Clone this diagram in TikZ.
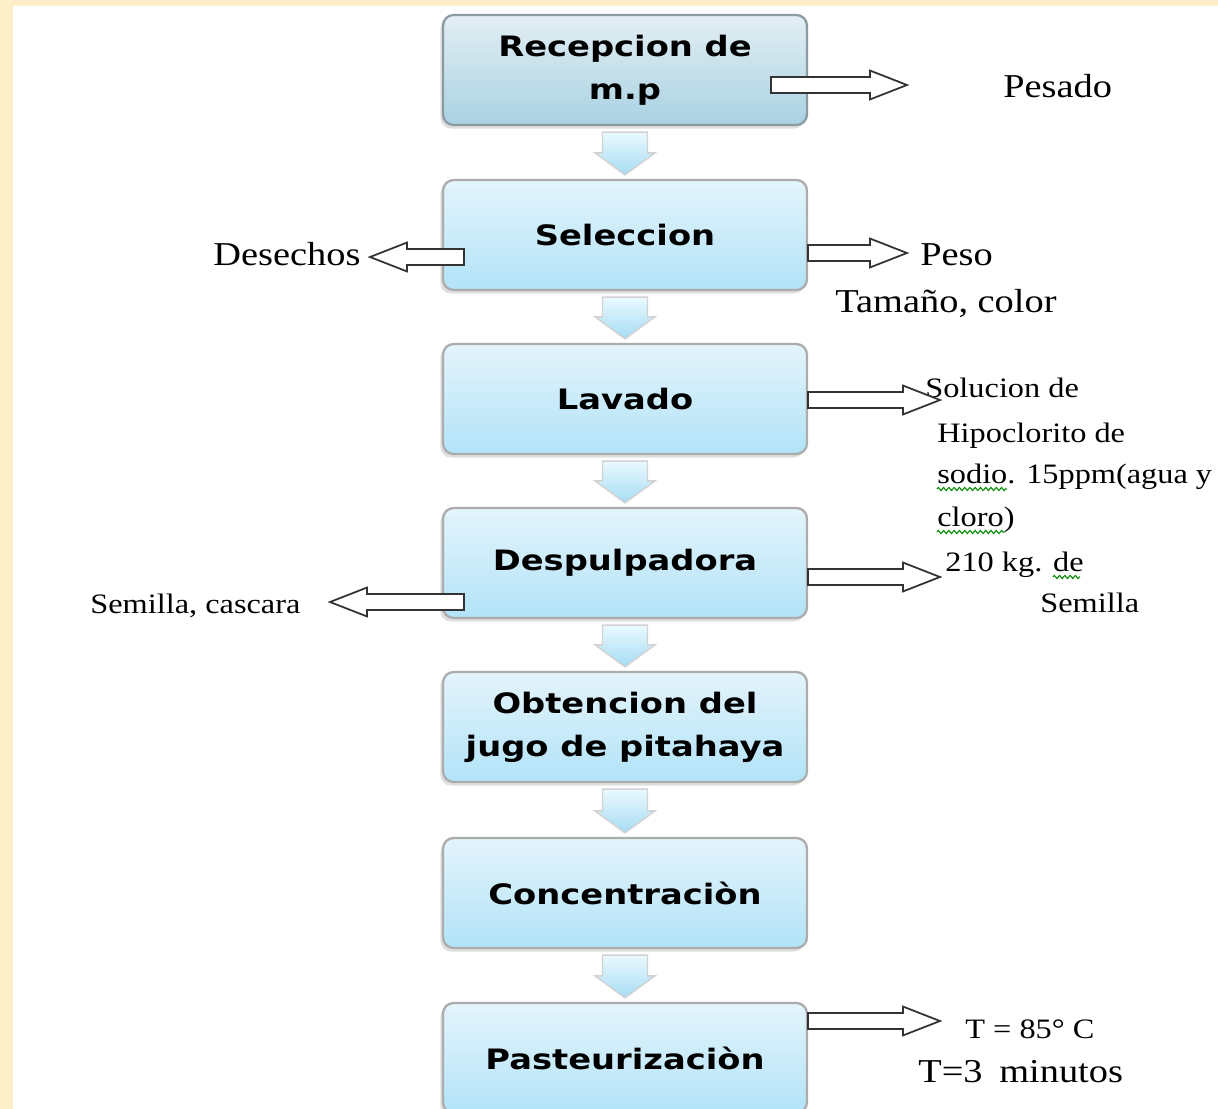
\documentclass[tikz,border=0pt]{standalone}
\usepackage{fontspec}
\newfontfamily\cajafont{DejaVu Sans}[FakeStretch=1.2]
\newfontfamily\notafont{Liberation Serif}[FakeStretch=1.15]
\usetikzlibrary{calc,shadows,decorations.pathmorphing}

\definecolor{crema}{HTML}{FCEFC8}
\definecolor{gris1arriba}{HTML}{E3EEF4}
\definecolor{gris1abajo}{HTML}{A9D2E2}
\definecolor{celestearriba}{HTML}{E4F4FC}
\definecolor{celesteabajo}{HTML}{B2E3F8}
\definecolor{flechaarriba}{HTML}{EAF9FE}
\definecolor{flechaabajo}{HTML}{A6DCF4}
\definecolor{borde1}{HTML}{8C9BA2}

\tikzset{
  caja/.style={draw=gray!65, line width=1.3pt, rounded corners=6pt,
    minimum width=7.28cm, minimum height=2.2cm, align=center,
    top color=celestearriba, bottom color=celesteabajo,
    font=\cajafont\bfseries\fontsize{16}{24.5}\selectfont,
    drop shadow={shadow xshift=-1.5pt, shadow yshift=-2pt, opacity=0.25}},
  caja1/.style={caja, draw=borde1, top color=gris1arriba, bottom color=gris1abajo},
  nota/.style={font=\notafont\fontsize{19}{24}\selectfont, inner sep=0pt},
  notachica/.style={font=\notafont\fontsize{16}{24}\selectfont, inner sep=0pt, anchor=base west},
  hueca/.style={fill=white, draw=black!80, line width=1pt},
  bajada/.style={top color=flechaarriba, bottom color=flechaabajo, draw=gray!35, line width=0.8pt},
  onda/.style={green!55!black, line width=0.6pt, decorate,
    decoration={zigzag, segment length=3pt, amplitude=0.9pt}}
}

% flecha hueca horizontal de #1 a #2
\newcommand{\flechahueca}[2]{%
  \draw[hueca] let \p1=(#1), \p2=(#2), \n1={sign(\x2-\x1)} in
    (\x1,\y1+4.5pt) -- (\x2-\n1*21pt,\y1+4.5pt) -- (\x2-\n1*21pt,\y1+8.2pt)
    -- (\x2,\y1) -- (\x2-\n1*21pt,\y1-8.2pt) -- (\x2-\n1*21pt,\y1-4.5pt)
    -- (\x1,\y1-4.5pt) -- cycle;}
% flecha celeste entre dos cajas
\newcommand{\flechabajo}[2]{%
  \draw[bajada] let \p1=(#1.south), \p2=(#2.north) in
    (\x1-0.45cm,\y1-0.12cm) -- (\x1+0.45cm,\y1-0.12cm) -- (\x1+0.45cm,\y2+0.52cm)
    -- (\x1+0.6cm,\y2+0.52cm) -- (\x1,\y2+0.08cm) -- (\x1-0.6cm,\y2+0.52cm)
    -- (\x1-0.45cm,\y2+0.52cm) -- cycle;}

\begin{document}
\begin{tikzpicture}[x=0.02cm, y=-0.02cm]
\useasboundingbox (0,0) rectangle (1218,1109);
\clip (0,0) rectangle (1218,1109);

%fondo
\fill[crema] (0,0) rectangle (1218,1109);
\fill[white] (13,6) rectangle (1218,1109);

%cajas
\node[caja1] (recep) at (625,70) {Recepcion de\\m.p};
\node[caja] (selec) at (625,235) {Seleccion};
\node[caja] (lavado) at (625,399) {Lavado};
\node[caja] (despul) at (625,563) {Despulpadora};
\node[caja] (jugo) at (625,727) {Obtencion del\\jugo de pitahaya};
\node[caja] (concen) at (625,893) {Concentraciòn};
\node[caja] (pasteu) at (625,1058) {Pasteurizaciòn};

%flechas entre cajas
\foreach \a/\b in {recep/selec, selec/lavado, lavado/despul, despul/jugo, jugo/concen, concen/pasteu}
  \flechabajo{\a}{\b};

%textos laterales
\node[nota, anchor=base west] (pesado) at (1003,97) {Pesado};
\node[nota, anchor=base west] (desechos) at (213,265) {Desechos};
\node[nota, anchor=base west] (peso) at (920,265) {Peso};
\node[nota, anchor=base west] (tamano) at (835,312) {Tamaño, color};
\node[notachica] (sol1) at (925,397) {Solucion de};
\node[notachica] (sol2) at (937,442) {Hipoclorito de};
\node[notachica] (sol3) at (937,483) {sodio. 15ppm(agua y};
\node[notachica] (sol4) at (937,526) {cloro)};
\node[notachica] (kg) at (945,571) {210 kg. de};
\node[notachica] (semilla) at (1040,612) {Semilla};
\node[notachica] (cascara) at (90,613) {Semilla, cascara};
\node[notachica] (temp) at (965,1038) {T = 85° C};
\node[nota, anchor=base west] (tiempo) at (918,1082) {T=3\hspace{0.5em}minutos};

%subrayado ortografico
\draw[onda] (937,489) -- (1007,489);
\draw[onda] (937,532) -- (1005,532);
\draw[onda] (1053,577) -- (1080,577);

%flechas huecas
\coordinate (p1) at (907,85);
\coordinate (p2) at (907,253);
\coordinate (p3) at (370,257);
\coordinate (p4) at (940,400);
\coordinate (p5) at (940,577);
\coordinate (p6) at (330,602);
\coordinate (p7) at (940,1021);
\flechahueca{$(recep.east)+(-37,15)$}{p1}
\flechahueca{$(selec.east)+(0,18)$}{p2}
\flechahueca{$(selec.west)+(22,22)$}{p3}
\flechahueca{$(lavado.east)+(0,1)$}{p4}
\flechahueca{$(despul.east)+(0,14)$}{p5}
\flechahueca{$(despul.west)+(22,39)$}{p6}
\flechahueca{$(pasteu.east)+(0,-37)$}{p7}

\end{tikzpicture}
\end{document}
